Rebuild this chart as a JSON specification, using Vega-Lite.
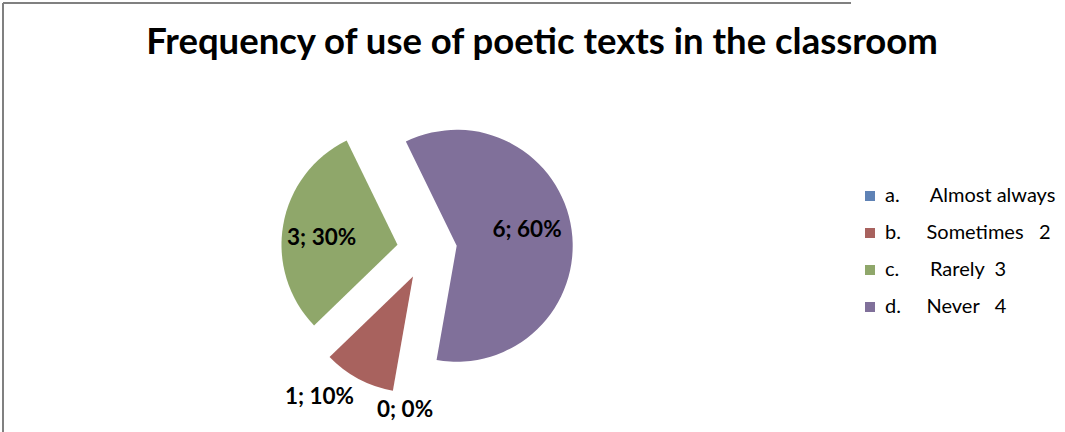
{
  "$schema": "https://vega.github.io/schema/vega-lite/v6.json",
  "autosize": {"type": "none"},
  "width": 848,
  "height": 494,
  "padding": {"left": 3, "top": 3, "right": 214, "bottom": -65},
  "background": "white",
  "view": {"stroke": "#808080", "strokeWidth": 2, "strokeDash": [848, 1342, 494, 0]},
  "config": {
    "view": {"stroke": "#808080", "strokeWidth": 2, "strokeDash": [848, 1342, 494, 0]},
    "font": "Lato"
  },
  "title": {
    "text": "Frequency of use of poetic texts in the classroom",
    "font": "Lato",
    "fontSize": 36.5,
    "fontWeight": "bold",
    "color": "#000000",
    "anchor": "middle",
    "frame": "group",
    "baseline": "alphabetic",
    "orient": "top",
    "offset": -87,
    "dx": 115
  },
  "data": {
    "values": [
      {"name": "a.\u00a0\u00a0\u00a0\u00a0\u00a0\u00a0Almost always", "key": "a", "count": 0, "pct": 0, "label": "0; 0%", "ord": 1},
      {"name": "b.\u00a0\u00a0\u00a0\u00a0\u00a0Sometimes\u00a0\u00a0\u00a02", "key": "b", "count": 1, "pct": 10, "label": "1; 10%", "ord": 2},
      {"name": "c.\u00a0\u00a0\u00a0\u00a0\u00a0\u00a0Rarely\u00a0\u00a03", "key": "c", "count": 3, "pct": 30, "label": "3; 30%", "ord": 3},
      {"name": "d.\u00a0\u00a0\u00a0\u00a0\u00a0Never\u00a0\u00a0\u00a04", "key": "d", "count": 6, "pct": 60, "label": "6; 60%", "ord": 4}
    ]
  },
  "layer": [
    {
      "mark": {"type": "arc", "radius": 116, "xOffset": -14, "yOffset": 26.5},
      "encoding": {
        "theta": {"field": "count", "type": "quantitative", "stack": true, "scale": {"range": [3.3161, 9.5993]}},
        "order": {"field": "ord", "type": "quantitative"},
        "color": {"field": "name", "type": "nominal", "scale": {"range": ["#5F82B5", "#A8625E", "#8FA76A", "#80709A"]},
          "legend": {"orient": "none", "legendX": 857, "legendY": 183, "title": null, "symbolType": "square", "symbolSize": 100, "symbolStrokeWidth": 0, "labelFont": "Lato", "labelFontSize": 20, "labelColor": "#000000", "rowPadding": 17, "labelOffset": 5, "padding": 0, "labelLimit": 400}},
        "opacity": {"condition": {"test": "datum.key == 'b'", "value": 1}, "value": 0}
      }
    },
    {
      "mark": {"type": "arc", "radius": 116, "xOffset": -29.5, "yOffset": -5.2},
      "encoding": {
        "theta": {"field": "count", "type": "quantitative", "stack": true},
        "order": {"field": "ord", "type": "quantitative"},
        "color": {"field": "name", "type": "nominal"},
        "opacity": {"condition": {"test": "datum.key == 'c'", "value": 1}, "value": 0}
      }
    },
    {
      "mark": {"type": "arc", "radius": 116, "xOffset": 29.7, "yOffset": -4.2},
      "encoding": {
        "theta": {"field": "count", "type": "quantitative", "stack": true},
        "order": {"field": "ord", "type": "quantitative"},
        "color": {"field": "name", "type": "nominal"},
        "opacity": {"condition": {"test": "datum.key == 'd'", "value": 1}, "value": 0}
      }
    },
    {
      "mark": {"type": "text", "radius": 100, "xOffset": 1, "yOffset": -6, "font": "Lato", "fontSize": 22.5, "fontWeight": "bold", "color": "#000000", "align": "center", "baseline": "middle"},
      "encoding": {
        "theta": {"field": "count", "type": "quantitative", "stack": true},
        "order": {"field": "ord", "type": "quantitative"},
        "detail": {"field": "name", "type": "nominal"},
        "text": {"field": "label", "type": "nominal"},
        "opacity": {"condition": {"test": "datum.key == 'd'", "value": 1}, "value": 0}
      }
    },
    {
      "mark": {"type": "text", "radius": 107, "xOffset": 0, "yOffset": 7, "font": "Lato", "fontSize": 22.5, "fontWeight": "bold", "color": "#000000", "align": "center", "baseline": "middle"},
      "encoding": {
        "theta": {"field": "count", "type": "quantitative", "stack": true},
        "order": {"field": "ord", "type": "quantitative"},
        "detail": {"field": "name", "type": "nominal"},
        "text": {"field": "label", "type": "nominal"},
        "opacity": {"condition": {"test": "datum.key == 'c'", "value": 1}, "value": 0}
      }
    },
    {
      "mark": {"type": "text", "radius": 180, "xOffset": -23, "yOffset": -12, "font": "Lato", "fontSize": 22.5, "fontWeight": "bold", "color": "#000000", "align": "center", "baseline": "middle"},
      "encoding": {
        "theta": {"field": "count", "type": "quantitative", "stack": true},
        "order": {"field": "ord", "type": "quantitative"},
        "detail": {"field": "name", "type": "nominal"},
        "text": {"field": "label", "type": "nominal"},
        "opacity": {"condition": {"test": "datum.key == 'b'", "value": 1}, "value": 0}
      }
    },
    {
      "mark": {"type": "text", "radius": 161, "xOffset": 6, "yOffset": 1, "font": "Lato", "fontSize": 22.5, "fontWeight": "bold", "color": "#000000", "align": "center", "baseline": "middle"},
      "encoding": {
        "theta": {"field": "count", "type": "quantitative", "stack": true},
        "order": {"field": "ord", "type": "quantitative"},
        "detail": {"field": "name", "type": "nominal"},
        "text": {"field": "label", "type": "nominal"},
        "opacity": {"condition": {"test": "datum.key == 'a'", "value": 1}, "value": 0}
      }
    }
  ]
}
